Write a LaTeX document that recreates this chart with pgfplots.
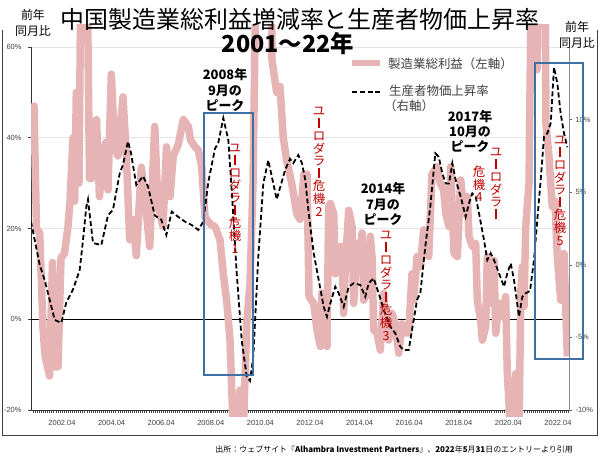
\documentclass[border=0pt]{standalone}
\usepackage{fontspec}
\setmainfont{Liberation Sans}
\newfontfamily\jp{Noto Sans CJK JP}
\usepackage{graphicx}
\usepackage{pgfplots}
\pgfplotsset{compat=1.18}
\definecolor{pinkline}{HTML}{E6B4B4}
\definecolor{boxblue}{HTML}{3F6FA3}
\definecolor{crisisred}{HTML}{C00000}
\definecolor{txtgray}{HTML}{404040}
\newcommand{\vb}{\rule[0.3bp]{1.3bp}{10bp}}

\begin{document}
\begin{tikzpicture}
% ---------- main (left) axis: frame, grid, ticks ----------
\begin{axis}[at={(0,0)}, anchor=south west, scale only axis,
  width=538bp, height=363bp,
  xmin=2001, xmax=2022.694, ymin=-20, ymax=60,
  axis x line*=bottom, axis y line*=left,
  axis line style={black!80, line width=0.6bp},
  xtick={2002.25,2004.25,2006.25,2008.25,2010.25,2012.25,2014.25,2016.25,2018.25,2020.25,2022.25},
  xticklabels={2002.04,2004.04,2006.04,2008.04,2010.04,2012.04,2014.04,2016.04,2018.04,2020.04,2022.04},
  minor xtick={2001.0833,2001.1667,...,2022.65},
  ytick={-20,0,20,40,60},
  yticklabels={-20\%,0\%,20\%,40\%,60\%},
  tick align=outside, major tick length=3bp, minor tick length=3bp,
  tick style={black!75, line width=0.5bp},
  ymajorgrids, grid style={black!10, line width=0.5bp},
  extra y ticks={0}, extra y tick labels={},
  extra y tick style={grid=major, grid style={black, line width=0.7bp}, major tick length=0pt},
  ticklabel style={font=\fontsize{7.5}{8}\selectfont, text=txtgray},
  yticklabel style={xshift=-3bp},
  xticklabel style={yshift=-4bp},
]
\end{axis}
% ---------- profits (left axis), thick pink ----------
\begin{axis}[at={(0,-6.806bp)}, anchor=south west, scale only axis,
  width=538bp, height=392.49bp,
  xmin=2001, xmax=2022.694, ymin=-21.5, ymax=65, hide axis]
\addplot[pinkline, line width=7.5bp, line join=round, no marks] table {
2001.000 44
2001.121 47
2001.222 20
2001.351 19
2001.484 -2
2001.565 -8
2001.746 -12.5
2001.867 12.5
2001.968 -10.5
2002.089 -10.5
2002.210 13.5
2002.351 14.5
2002.492 20.5
2002.573 26
2002.694 40
2002.762 26
2002.827 50
2002.935 30
2003.016 80
2003.137 95
2003.258 80
2003.359 31
2003.440 31
2003.560 41.5
2003.641 44
2003.762 27
2003.903 37
2004.024 39
2004.105 28.5
2004.238 54
2004.375 38
2004.508 36
2004.710 49
2004.843 36
2004.980 17.5
2005.113 22
2005.246 14
2005.448 33.5
2005.585 27
2005.786 16
2005.988 42.5
2006.121 25
2006.323 20.5
2006.464 38
2006.605 27
2006.738 36
2006.940 38.5
2007.141 44
2007.343 42.5
2007.431 39.5
2007.613 38
2007.746 37.3
2007.883 33.6
2008.016 22.6
2008.218 21
2008.419 20.4
2008.621 17.5
2008.754 10
2008.891 4
2009.024 -4.6
2009.157 -25
2009.286 -25
2009.427 -15.6
2009.560 -25
2009.698 -1
2009.831 8
2009.952 30
2010.153 110
2010.395 120
2010.637 110
2010.718 57
2010.907 50
2011.040 51.3
2011.173 40
2011.310 35
2011.512 30
2011.714 23.3
2011.847 22
2012.008 32
2012.129 32
2012.210 5
2012.399 3.5
2012.532 -2.4
2012.665 -6
2012.734 5.8
2012.935 -6
2013.004 24.8
2013.069 25.5
2013.206 23.3
2013.270 10
2013.407 16
2013.540 16
2013.609 1.3
2013.673 11.6
2013.810 24
2013.944 20.4
2014.012 3.5
2014.145 16.7
2014.278 14.5
2014.347 19
2014.415 4.2
2014.548 5.7
2014.681 18.3
2014.750 13.8
2014.819 -2.4
2014.952 -3
2015.085 -6.8
2015.222 5.7
2015.286 -1.6
2015.423 -4.6
2015.556 1.3
2015.690 -1
2015.827 -7.5
2015.960 -1
2016.093 -3
2016.230 -3
2016.363 10
2016.431 4.2
2016.565 13.8
2016.698 11.6
2016.835 19.7
2016.968 19
2017.036 13.8
2017.169 32
2017.371 33.6
2017.504 30
2017.641 28.5
2017.722 23.3
2017.855 20.4
2017.923 33.6
2018.056 14.5
2018.190 13.8
2018.327 30.7
2018.460 23.3
2018.593 27
2018.661 18.3
2018.794 16
2018.931 16.7
2018.996 4.2
2019.133 -0.2
2019.198 -4.6
2019.335 -1.6
2019.399 13.8
2019.536 3.5
2019.669 13
2019.738 -3.1
2019.871 3.5
2020.004 0.6
2020.141 5
2020.206 -12
2020.343 -25
2020.476 -19.3
2020.544 -12
2020.677 -25
2020.754 6.4
2020.810 11.6
2020.879 2.8
2020.948 20.4
2021.081 30
2021.242 110
2021.403 55
2021.524 110
2021.685 110
2021.766 43
2021.887 35.8
2022.020 24.8
2022.129 26
2022.222 13.8
2022.359 4.2
2022.492 14.5
2022.625 -8.2
};
\end{axis}
% ---------- PPI (right axis), dashed ----------
\begin{axis}[at={(0,0)}, anchor=south west, scale only axis,
  width=538bp, height=363bp,
  xmin=2001, xmax=2022.694, ymin=-10, ymax=15,
  axis x line=none, axis y line*=right,
  axis line style={black!45, line width=0.6bp},
  ytick={-10,-5,0,5,10},
  yticklabels={-10\%,-5\%,0\%,5\%,10\%},
  tick align=outside, major tick length=3bp,
  tick style={black!60, line width=0.5bp},
  ticklabel style={font=\fontsize{7.5}{8}\selectfont, text=txtgray},
]
\addplot[black, line width=1.8bp, dash pattern=on 5bp off 2.8bp, no marks] table {
2001.000 2.97
2001.351 0.0
2001.552 -1.05
2001.956 -3.8
2002.222 -4.0
2002.423 -2.6
2002.694 -1.7
2002.964 -0.36
2003.097 1.7
2003.230 4.0
2003.298 4.5
2003.500 1.5
2003.835 1.36
2004.105 3.4
2004.306 3.8
2004.577 6.3
2004.710 6.9
2004.911 8.5
2005.032 7.7
2005.246 5.5
2005.516 6.1
2005.718 5.4
2005.988 3.4
2006.254 3.1
2006.456 2.05
2006.673 3.66
2006.940 3.3
2007.210 2.97
2007.480 2.74
2007.746 2.4
2007.948 2.97
2008.149 5.7
2008.419 8.0
2008.552 8.4
2008.754 10.1
2008.956 8.6
2009.093 5.15
2009.294 -0.56
2009.496 -5.2
2009.698 -7.7
2009.831 -8.0
2009.964 -6.3
2010.165 0.56
2010.367 5.6
2010.569 7.2
2010.907 4.5
2011.242 6.5
2011.444 7.3
2011.577 7.0
2011.778 7.56
2011.927 6.99
2012.060 5.84
2012.198 3.55
2012.399 0.79
2012.601 -1.05
2012.802 -2.89
2012.935 -3.57
2013.069 -2.65
2013.270 -1.51
2013.407 -1.96
2013.609 -2.89
2013.810 -1.51
2014.012 -1.27
2014.278 -1.39
2014.480 -2.2
2014.617 -1.27
2014.819 -0.93
2015.020 -1.96
2015.222 -3.1
2015.488 -4.26
2015.690 -4.72
2015.891 -5.64
2016.028 -5.87
2016.230 -5.87
2016.431 -3.8
2016.565 -2.42
2016.698 -1.96
2016.899 1.25
2017.101 4.0
2017.302 7.68
2017.440 7.44
2017.585 6.3
2017.722 5.6
2017.855 5.6
2017.988 6.99
2018.125 5.84
2018.327 4.69
2018.528 3.31
2018.661 4.24
2018.794 4.92
2018.931 4.69
2019.065 3.55
2019.266 1.71
2019.399 0.33
2019.536 0.79
2019.669 0.33
2019.871 -0.59
2020.073 -1.51
2020.206 -0.59
2020.343 0.1
2020.476 -1.05
2020.677 -3.57
2020.810 -2.2
2020.948 -1.96
2021.121 -1.8
2021.282 0.33
2021.415 3.09
2021.552 5.84
2021.685 8.82
2021.819 9.06
2021.956 9.75
2022.089 13.6
2022.222 12.5
2022.359 10.4
2022.492 9.06
2022.625 8.1
};
\end{axis}
% ---------- decorations (1bp = 1px; tikz = (px-31, 410-py)) ----------
\begin{scope}[x=1bp, y=1bp]
\useasboundingbox (-31,-50) rectangle (569,410);
% outer frame
\draw[black!75, line width=0.8bp] (-29,380) -- (-29,-25) -- (566,-25) -- (566,380);
% title
\node[font=\jp\fontsize{24}{26}\selectfont] at (269,391) {中国製造業総利益増減率と生産者物価上昇率};
\node[font=\jp\bfseries\fontsize{23.5}{25}\selectfont] at (257,366) {2001～22年};
% axis unit labels
\node[font=\jp\fontsize{12}{15.5}\selectfont, align=center] at (2,387) {前年\\同月比};
\node[font=\jp\fontsize{12}{15.5}\selectfont, align=center] at (546,375) {前年\\同月比};
% legend
\draw[pinkline, line width=6bp] (321,347) -- (349,347);
\node[anchor=west, inner sep=0, font=\jp\fontsize{12.5}{14}\selectfont, text=txtgray] at (357,346) {製造業総利益（左軸）};
\draw[black, line width=1.8bp, dash pattern=on 5bp off 2.8bp] (321,318) -- (349,318);
\node[anchor=west, inner sep=0, font=\jp\fontsize{12.5}{14}\selectfont, text=txtgray] at (358,319) {生産者物価上昇率};
\node[anchor=west, inner sep=0, font=\jp\fontsize{12.5}{14}\selectfont, text=txtgray] at (353,304) {（右軸）};
% blue boxes
\draw[boxblue, line width=2bp] (173.3,297.3) rectangle (221.7,35);
\draw[boxblue, line width=2bp] (504,346.7) rectangle (552,51);
% peak annotations
\node[font=\jp\bfseries\fontsize{13}{15.5}\selectfont, align=center] at (194,320) {2008年\\9月の\\ピーク};
\node[font=\jp\bfseries\fontsize{13}{15.5}\selectfont, align=center] at (352,206) {2014年\\7月の\\ピーク};
\node[font=\jp\bfseries\fontsize{13}{15.5}\selectfont, align=center] at (439,278.5) {2017年\\10月の\\ピーク};
% crisis labels (vertical)
\node[anchor=north, inner sep=0, align=center, text=crisisred, font=\jp\fontsize{12.5}{12.6}\selectfont] at (204,266) {ユ\\\vb\\ロ\\ダ\\ラ\\\vb\\危\\機\\1};
\node[anchor=north, inner sep=0, align=center, text=crisisred, font=\jp\fontsize{12.5}{12.6}\selectfont] at (288,303) {ユ\\\vb\\ロ\\ダ\\ラ\\\vb\\危\\機\\2};
\node[anchor=north, inner sep=0, align=center, text=crisisred, font=\jp\fontsize{12.5}{12.6}\selectfont] at (355,179) {ユ\\\vb\\ロ\\ダ\\ラ\\\vb\\危\\機\\3};
\node[anchor=north, inner sep=0, align=center, text=crisisred, font=\jp\fontsize{12.5}{12.6}\selectfont] at (465,262) {ユ\\\vb\\ロ\\ダ\\ラ\\\vb};
\node[anchor=north, inner sep=0, align=center, text=crisisred, font=\jp\fontsize{12.5}{12.6}\selectfont] at (448,244) {危\\機\\4};
\node[anchor=north, inner sep=0, align=center, text=crisisred, font=\jp\fontsize{12.5}{12.6}\selectfont] at (529,274) {ユ\\\vb\\ロ\\ダ\\ラ\\\vb\\危\\機\\5};
% source
\node[anchor=east, inner sep=0, font=\jp\fontsize{8}{9}\selectfont] at (542,-39) {出所：ウェブサイト『\textbf{Alhambra Investment Partners}』、\textbf{2022}年\textbf{5}月\textbf{31}日のエントリーより引用};
\end{scope}
\end{tikzpicture}
\end{document}
